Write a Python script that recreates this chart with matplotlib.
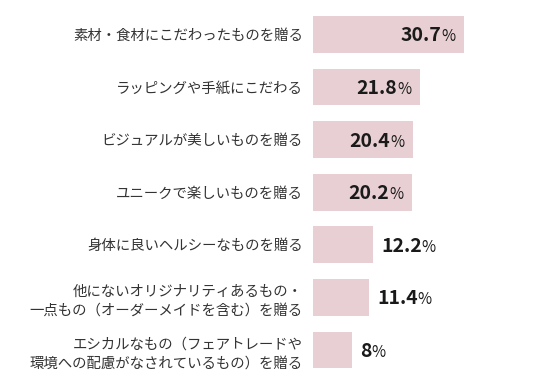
import matplotlib
matplotlib.use("Agg")
import matplotlib.pyplot as plt

plt.rcParams['font.family'] = ['Noto Sans CJK JP', 'DejaVu Sans']

categories = [
    "素材・食材にこだわったものを贈る",
    "ラッピングや手紙にこだわる",
    "ビジュアルが美しいものを贈る",
    "ユニークで楽しいものを贈る",
    "身体に良いヘルシーなものを贈る",
    "他にないオリジナリティあるもの・\n一点もの（オーダーメイドを含む）を贈る",
    "エシカルなもの（フェアトレードや\n環境への配慮がなされているもの）を贈る",
]
values = [30.7, 21.8, 20.4, 20.2, 12.2, 11.4, 8]
value_labels = ["30.7", "21.8", "20.4", "20.2", "12.2", "11.4", "8"]
inside = [True, True, True, True, False, False, False]

W, H = 536, 384
fig = plt.figure(figsize=(W / 100, H / 100), dpi=100)
left_px = 313
ax = fig.add_axes([left_px / W, 0, (W - left_px) / W, 1])
px_per_unit = 4.92
ax.set_xlim(0, (W - left_px) / px_per_unit)
ax.set_ylim(6.647, -0.656)

bar_color = "#E8CFD3"
ypos = list(range(len(categories)))
ax.barh(ypos, values, height=0.70, color=bar_color, edgecolor="none")

ax.set_yticks(ypos)
ax.set_yticklabels(categories, fontsize=10.4, color="#333333", linespacing=1.45)
ax.tick_params(axis='y', length=0, pad=7.2)
ax.set_xticks([])
for s in ax.spines.values():
    s.set_visible(False)

# value labels: bold number + smaller %
yoff = -7
num_texts = []
pct_texts = []
for i, (v, lab) in enumerate(zip(values, value_labels)):
    t1 = ax.annotate(lab, xy=(v, i), xycoords='data', xytext=(0, yoff),
                     textcoords='offset pixels', fontsize=14, fontweight='bold',
                     color="#1a1a1a", va='baseline', ha='left')
    t2 = ax.annotate("%", xy=(v, i), xycoords='data', xytext=(0, yoff),
                     textcoords='offset pixels', fontsize=11,
                     color="#1a1a1a", va='baseline', ha='left')
    num_texts.append(t1)
    pct_texts.append(t2)

fig.canvas.draw()
r = fig.canvas.get_renderer()
for i in range(len(values)):
    w1 = num_texts[i].get_window_extent(r).width
    w2 = pct_texts[i].get_window_extent(r).width
    if inside[i]:
        end = -9
        num_texts[i].set_position((end - w2 - w1, yoff))
        pct_texts[i].set_position((end - w2, yoff))
    else:
        start = 8
        num_texts[i].set_position((start, yoff))
        pct_texts[i].set_position((start + w1, yoff))

fig.savefig("out.png", dpi=100, facecolor="white")
